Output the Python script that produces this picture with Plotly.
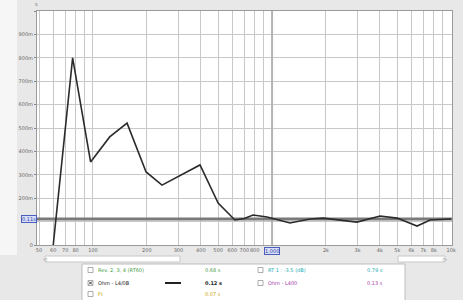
import math
import plotly.graph_objects as go

# ---- data ----
freq_hz = [60, 77, 97, 124, 155, 198, 243, 306, 396, 500, 620, 700, 783, 938, 1260, 1630, 1930, 2980, 4010, 4990, 6450, 7630, 10000]
rt_ms = [0, 800, 355, 462, 521, 312, 256, 295, 342, 179, 107, 113, 128, 120, 94, 111, 115, 98, 124, 115, 81, 107, 111]
ref_level_ms = 111
ref_label = "0.11s"

grid_freqs = [50, 60, 70, 80, 90, 100, 200, 300, 400, 500, 600, 700, 800, 900,
              1000, 2000, 3000, 4000, 5000, 6000, 7000, 8000, 9000, 10000]
grid_labels = ["50", "60", "70", "80", "", "100", "200", "300", "400", "500", "600", "700", "800", "",
               "", "2k", "3k", "4k", "5k", "6k", "7k", "8k", "", "10k"]
y_ticks = [0, 100, 200, 300, 400, 500, 600, 700, 800, 900, 1000]
y_labels = ["0", "", "200m", "300m", "400m", "500m", "600m", "700m", "800m", "900m", ""]

x_min, x_max = 48.7, 10110

legend_rows = [
    # (text, value, colour, checked, column)
    ("Rev. 2, 3, 4 (RT60)", "0.68 s", "#3f9b3f", False, 0),
    ("Ohm - L4/0B", "0.12 s", "#222222", True, 0),
    ("Ft", "0.07 s", "#c9a400", False, 0),
    ("RT 1 : -3.5 (dB)", "0.79 s", "#22aab0", False, 1),
    ("Ohm - L400", "0.13 s", "#a640a6", False, 1),
]

W, H = 463, 300
L, R, T, B = 37, 11, 11, 55
pw, ph = W - L - R, H - T - B


def px(xp):
    return (xp - L) / pw


def py(yp):
    return (H - B - yp) / ph


fig = go.Figure()

# thick 1 kHz grid line
fig.add_trace(go.Scatter(x=[1000, 1000], y=[0, 1000], mode="lines",
                         line=dict(color="#b4b4b4", width=2), hoverinfo="skip", showlegend=False))
# reference level
fig.add_trace(go.Scatter(x=[x_min, x_max], y=[ref_level_ms, ref_level_ms], mode="lines",
                         line=dict(color="#7a7a7a", width=3), hoverinfo="skip", showlegend=False))
# measured curve
fig.add_trace(go.Scatter(x=freq_hz, y=rt_ms, mode="lines",
                         line=dict(color="#2b2b2b", width=1.6), showlegend=False))

fig.update_layout(
    width=W, height=H,
    margin=dict(l=L, r=R, t=T, b=B, autoexpand=False),
    paper_bgcolor="#e8e8e8",
    plot_bgcolor="#ffffff",
    font=dict(family="DejaVu Sans", size=5, color="#555555"),
    xaxis=dict(type="log", range=[math.log10(x_min), math.log10(x_max)],
               tickvals=grid_freqs, ticktext=grid_labels, showgrid=True, tickangle=0,
               gridcolor="#c8c8c8", gridwidth=1, zeroline=False, ticks="", automargin=False,
               showline=True, linecolor="#9a9a9a", mirror=True, linewidth=1,
               tickfont=dict(size=5, color="#666666")),
    yaxis=dict(range=[0, 1000], tickvals=y_ticks, ticktext=y_labels, showgrid=True,
               gridcolor="#c8c8c8", gridwidth=1, zeroline=False, ticks="outside", automargin=False,
               ticklen=2, tickcolor="#888", showline=True, linecolor="#9a9a9a",
               mirror=True, linewidth=1, tickfont=dict(size=5, color="#666666")),
)

shapes = []
ann = []
# left light strip
shapes.append(dict(type="rect", xref="paper", yref="paper", x0=px(0), x1=px(17), y0=py(255), y1=py(0),
                   fillcolor="#f6f6f6", line=dict(width=0), layer="below"))
# bottom scrollbars
shapes.append(dict(type="rect", xref="paper", yref="paper", x0=px(45), x1=px(180), y0=py(262), y1=py(256),
                   fillcolor="#ffffff", line=dict(color="#c8c8c8", width=1)))
shapes.append(dict(type="rect", xref="paper", yref="paper", x0=px(398), x1=px(445), y0=py(262), y1=py(256),
                   fillcolor="#ffffff", line=dict(color="#c8c8c8", width=1)))
ann.append(dict(text="◁", xref="paper", yref="paper", x=px(41), y=py(259), yanchor="middle",
                showarrow=False, font=dict(size=5, color="#777")))
ann.append(dict(text="▷", xref="paper", yref="paper", x=px(449), y=py(259), yanchor="middle",
                showarrow=False, font=dict(size=5, color="#777")))
# legend panel
shapes.append(dict(type="rect", xref="paper", yref="paper", x0=px(82), x1=px(405), y0=py(302), y1=py(264),
                   fillcolor="#ffffff", line=dict(color="#bdbdbd", width=1)))
row_y = [270, 283, 294]
col_x = [(88, 96, 203), (258, 266, 365)]
counts = [0, 0]
for text, val, col, checked, c in legend_rows:
    r = counts[c]
    counts[c] += 1
    yy = row_y[r]
    bx, tx, vx = col_x[c]
    shapes.append(dict(type="rect", xref="paper", yref="paper", x0=px(bx), x1=px(bx + 5),
                       y0=py(yy + 2.5), y1=py(yy - 2.5), fillcolor="#ffffff",
                       line=dict(color="#999999", width=0.8)))
    if checked:
        shapes.append(dict(type="line", xref="paper", yref="paper", x0=px(bx + 1), x1=px(bx + 4),
                           y0=py(yy + 1.5), y1=py(yy - 1.5), line=dict(color="#333", width=1)))
        shapes.append(dict(type="line", xref="paper", yref="paper", x0=px(bx + 1), x1=px(bx + 4),
                           y0=py(yy - 1.5), y1=py(yy + 1.5), line=dict(color="#333", width=1)))
        shapes.append(dict(type="line", xref="paper", yref="paper", x0=px(165), x1=px(181),
                           y0=py(yy), y1=py(yy), line=dict(color="#222", width=2)))
    ann.append(dict(text=text, xref="paper", yref="paper", x=px(tx), y=py(yy), xanchor="left",
                    yanchor="middle", showarrow=False, font=dict(size=5, color=col)))
    ann.append(dict(text="<b>" + val + "</b>" if checked else val, xref="paper", yref="paper",
                    x=px(vx), y=py(yy), xanchor="left", yanchor="middle",
                    showarrow=False, font=dict(size=5, color=col)))

# reference label box on y axis
ann.append(dict(text=ref_label, xref="paper", yref="y", x=0, y=ref_level_ms, xanchor="right",
                showarrow=False, font=dict(size=5, color="#2a3fa0"), bgcolor="#d8defa",
                bordercolor="#4a5fc0", borderwidth=1, borderpad=0))
# 1 kHz label box on x axis
ann.append(dict(text="1,000", xref="x", yref="paper", x=3, y=0, yanchor="top", yshift=-2,
                showarrow=False, font=dict(size=5, color="#2a3fa0"), bgcolor="#d8defa",
                bordercolor="#4a5fc0", borderwidth=1, borderpad=0))
ann.append(dict(text="s", xref="paper", yref="paper", x=px(33), y=py(4), yanchor="middle",
                showarrow=False, font=dict(size=5, color="#666")))
fig.update_layout(shapes=shapes, annotations=ann)

fig.write_html("out.html", config={"displayModeBar": False},
               post_script="document.body.style.margin='0';document.body.style.overflow='hidden';")
